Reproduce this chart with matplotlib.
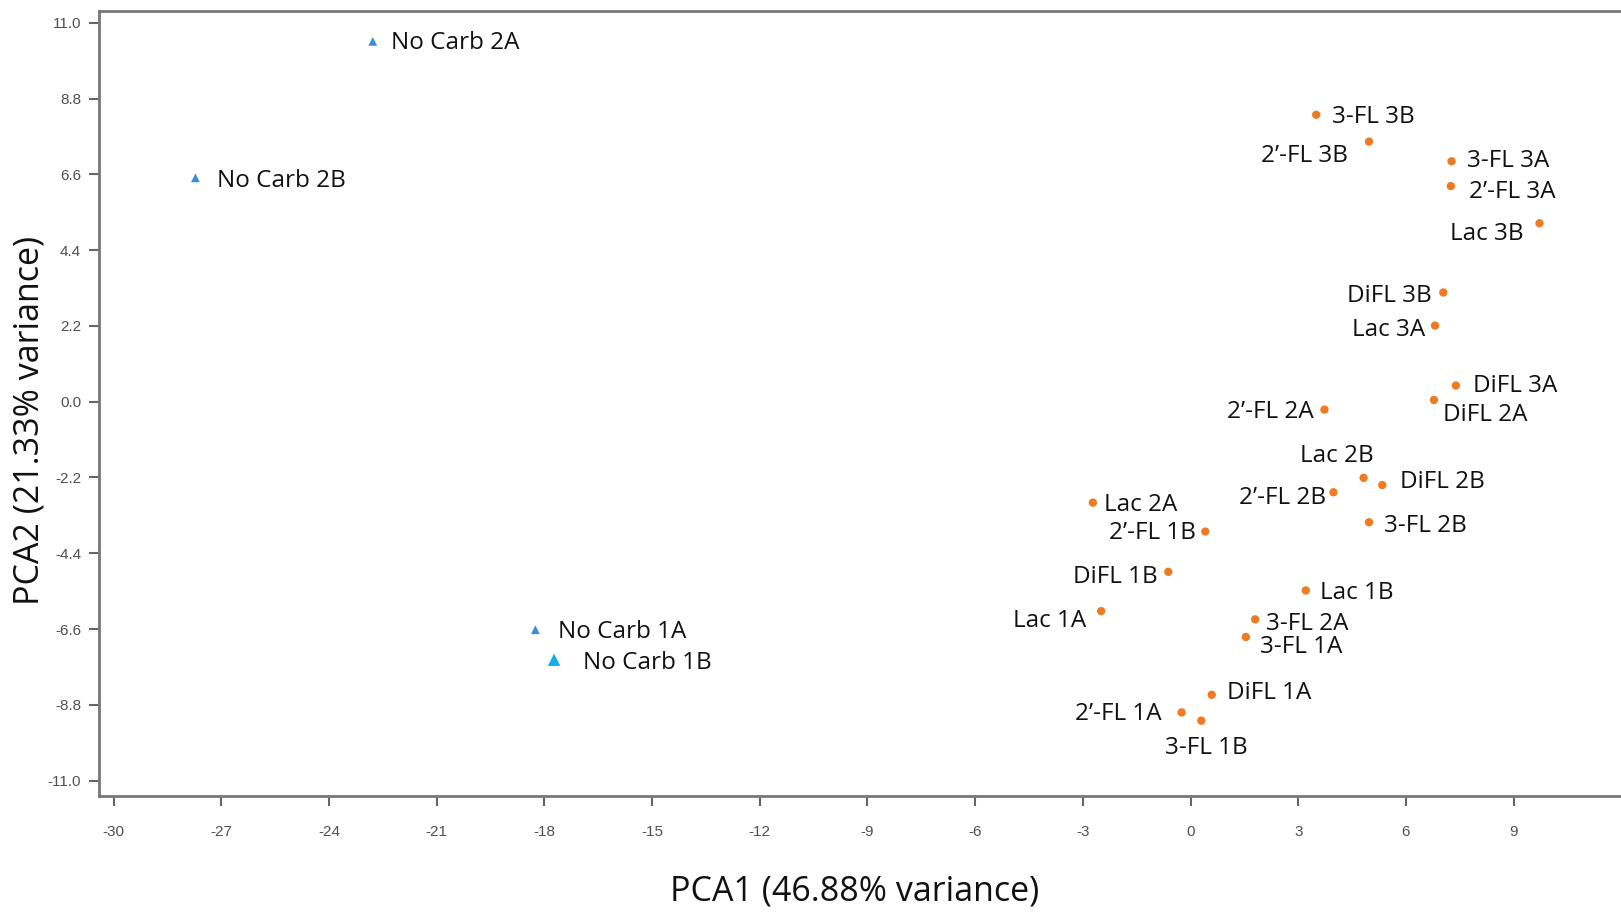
import matplotlib
matplotlib.use("Agg")
import matplotlib.pyplot as plt

# ---- data ----
nocarb_labels = ["No Carb 2A", "No Carb 2B", "No Carb 1A", "No Carb 1B"]
nocarb_x = [-22.78, -27.72, -18.25, -17.73]
nocarb_y = [10.46, 6.50, -6.62, -7.49]

carb_labels = ["3-FL 3B", "2\u2019-FL 3B", "3-FL 3A", "2\u2019-FL 3A", "Lac 3B",
               "DiFL 3B", "Lac 3A", "DiFL 3A", "DiFL 2A", "2\u2019-FL 2A",
               "Lac 2B", "DiFL 2B", "2\u2019-FL 2B", "3-FL 2B", "Lac 2A",
               "2\u2019-FL 1B", "DiFL 1B", "Lac 1B", "Lac 1A", "3-FL 2A",
               "3-FL 1A", "DiFL 1A", "2\u2019-FL 1A", "3-FL 1B"]
carb_x = [3.50, 4.97, 7.27, 7.25, 9.72,
          7.04, 6.81, 7.39, 6.78, 3.73,
          4.82, 5.34, 3.98, 4.97, -2.72,
          0.41, -0.62, 3.21, -2.49, 1.80,
          1.54, 0.59, -0.25, 0.30]
carb_y = [8.33, 7.55, 6.98, 6.26, 5.18,
          3.17, 2.21, 0.47, 0.05, -0.23,
          -2.21, -2.42, -2.63, -3.50, -2.93,
          -3.77, -4.94, -5.48, -6.08, -6.32,
          -6.83, -8.51, -9.02, -9.26]

xticks = [-30, -27, -24, -21, -18, -15, -12, -9, -6, -3, 0, 3, 6, 9]
yticks = [11.0, 8.8, 6.6, 4.4, 2.2, 0.0, -2.2, -4.4, -6.6, -8.8, -11.0]
xlabel = "PCA1 (46.88% variance)"
ylabel = "PCA2 (21.33% variance)"

# ---- layout (label offsets in reference pixels: dx, dy(down), ha) ----
nocarb_off = [(18, 0, "left"), (21, 1, "left"), (22, 0, "left"), (28, 1, "left")]
carb_off = [(15, 0, "left"), (-20, 12, "right"), (15, -2, "left"), (18, 4, "left"),
            (-15, 8, "right"), (-11, 1, "right"), (-9, 2, "right"), (17, -2, "left"),
            (9, 13, "left"), (-10, 0, "right"), (10, -23, "right"), (17, -5, "left"),
            (-7, 4, "right"), (15, 2, "left"), (11, 0, "left"), (-9, -1, "right"),
            (-10, 3, "right"), (14, 0, "left"), (-14, 8, "right"), (10, 2, "left"),
            (14, 8, "left"), (15, -4, "left"), (-19, 0, "right"), (5, 24, "center")]
DY_SHIFT = 2

LABEL_FONT = ["Open Sans", "DejaVu Sans"]
TICK_FONT = ["Liberation Sans Narrow", "Liberation Sans", "DejaVu Sans"]

fig = plt.figure(figsize=(16.21, 9.14), dpi=100)
ax = fig.add_axes([0.0612, 0.129, 0.9388, 0.8585])

ax.scatter(nocarb_x[:3], nocarb_y[:3], marker="^", s=40, color="#3b8fd9",
           edgecolors="none", zorder=3)
ax.scatter(nocarb_x[3:], nocarb_y[3:], marker="^", s=80, color="#13aef0",
           edgecolors="none", zorder=3)
ax.scatter(carb_x, carb_y, marker="o", s=36, color="#ee7a22",
           edgecolors="none", zorder=3)

k = 0.744  # reference px -> points
LFS = 17.5
for lab, x, y, (dx, dy, ha) in zip(nocarb_labels, nocarb_x, nocarb_y, nocarb_off):
    ax.annotate(lab, (x, y), xytext=(dx * k, -(dy + DY_SHIFT) * k),
                textcoords="offset points", ha=ha, va="center", fontsize=LFS,
                family=LABEL_FONT, color="#111111")
for lab, x, y, (dx, dy, ha) in zip(carb_labels, carb_x, carb_y, carb_off):
    ax.annotate(lab, (x, y), xytext=(dx * k, -(dy + DY_SHIFT) * k),
                textcoords="offset points", ha=ha, va="center", fontsize=LFS,
                family=LABEL_FONT, color="#111111")

ax.set_xlim(-30.40, 11.99)
ax.set_ylim(-11.45, 11.33)
ax.set_xticks(xticks)
ax.set_xticklabels([str(t) for t in xticks])
ax.set_yticks(yticks)
ax.set_yticklabels(["%.1f" % t for t in yticks])

for lbl in ax.get_xticklabels() + ax.get_yticklabels():
    lbl.set_family(TICK_FONT)
    lbl.set_fontsize(11)
    lbl.set_color("#505050")

ax.tick_params(axis="both", direction="out", length=7, width=1.5, color="#666666")
ax.tick_params(axis="x", pad=14)
ax.tick_params(axis="y", pad=6)

for side in ["left", "bottom", "top"]:
    ax.spines[side].set_color("#777777")
    ax.spines[side].set_linewidth(2)
ax.spines["right"].set_visible(False)

fig.text(0.527, 0.025, xlabel, ha="center", va="center", fontsize=24.5,
         family=LABEL_FONT, color="#111111")
fig.text(0.018, 0.54, ylabel, ha="center", va="center", rotation=90, fontsize=24.5,
         family=LABEL_FONT, color="#111111")

fig.savefig("out.png", dpi=100)
